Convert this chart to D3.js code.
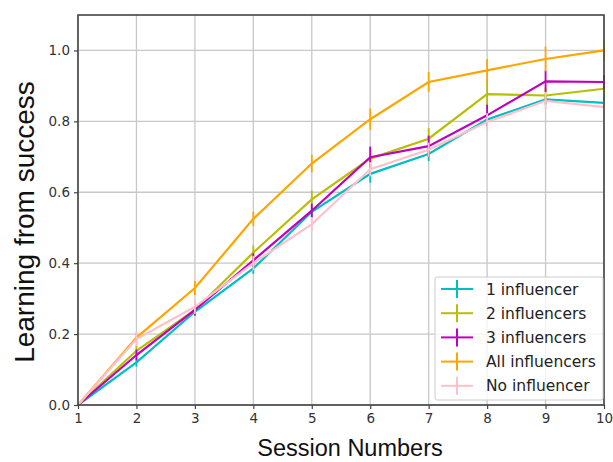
<!DOCTYPE html>
<html>
<head>
<meta charset="utf-8">
<script src="https://cdn.jsdelivr.net/npm/d3@7"></script>
<style>
  html, body { margin: 0; padding: 0; background: #fff; }
  svg { display: block; }
</style>
</head>
<body>
<svg id="chart" width="613" height="462"></svg>
<script>
const sessions = [1, 2, 3, 4, 5, 6, 7, 8, 9, 10];
const seriesNames = ["1 influencer", "2 influencers", "3 influencers", "All influencers", "No influencer"];
const seriesColors = ["#00bfbf", "#b8bf00", "#bf00bf", "#ffa500", "#ffc0cb"];
const oneInfluencer   = [0, 0.120, 0.263, 0.385, 0.545, 0.652, 0.708, 0.805, 0.862, 0.852];
const twoInfluencers  = [0, 0.153, 0.268, 0.430, 0.580, 0.695, 0.751, 0.877, 0.873, 0.892];
const threeInfluencers= [0, 0.141, 0.268, 0.408, 0.548, 0.699, 0.730, 0.817, 0.913, 0.911];
const allInfluencers  = [0, 0.190, 0.330, 0.525, 0.681, 0.806, 0.911, 0.944, 0.976, 1.000];
const noInfluencer    = [0, 0.186, 0.277, 0.400, 0.510, 0.665, 0.720, 0.798, 0.858, 0.840];
const errOne   = [0, 0.012, 0.012, 0.015, 0.015, 0.025, 0.020, 0.020, 0.015, 0.020];
const errTwo   = [0, 0.015, 0.015, 0.020, 0.025, 0.030, 0.030, 0.040, 0.020, 0.020];
const errThree = [0, 0.015, 0.015, 0.020, 0.020, 0.030, 0.030, 0.030, 0.030, 0.020];
const errAll   = [0, 0.014, 0.020, 0.020, 0.025, 0.030, 0.028, 0.032, 0.035, 0.030];
const errNo    = [0, 0.020, 0.020, 0.020, 0.020, 0.020, 0.020, 0.025, 0.025, 0.020];
const yTicks = [0.0, 0.2, 0.4, 0.6, 0.8, 1.0];
const xTicks = [1, 2, 3, 4, 5, 6, 7, 8, 9, 10];

const values = [oneInfluencer, twoInfluencers, threeInfluencers, allInfluencers, noInfluencer];
const errors = [errOne, errTwo, errThree, errAll, errNo];

const svg = d3.select("#chart");
const margin = { left: 78, right: 9, top: 15, bottom: 57 };
const W = 613, H = 462;
const x = d3.scaleLinear().domain([1, 10]).range([margin.left, W - margin.right]);
const y = d3.scaleLinear().domain([0, 1.1]).range([H - margin.bottom, margin.top]);

// grid
const grid = svg.append("g");
grid.selectAll("line.gx").data(xTicks).join("line")
  .attr("x1", d => x(d)).attr("x2", d => x(d))
  .attr("y1", y(0)).attr("y2", y(1.1))
  .attr("stroke", "#c8c8c8").attr("stroke-width", 1.3);
grid.selectAll("line.gy").data(yTicks).join("line")
  .attr("x1", x(1)).attr("x2", x(10))
  .attr("y1", d => y(d)).attr("y2", d => y(d))
  .attr("stroke", "#c8c8c8").attr("stroke-width", 1.3);

// series
const line = d3.line().x((d, i) => x(sessions[i])).y(d => y(d));
values.forEach((vals, s) => {
  const g = svg.append("g");
  g.append("path").datum(vals)
    .attr("d", line).attr("fill", "none")
    .attr("stroke", seriesColors[s]).attr("stroke-width", 2.2);
  g.selectAll("line.err").data(vals).join("line")
    .attr("x1", (d, i) => x(sessions[i])).attr("x2", (d, i) => x(sessions[i]))
    .attr("y1", (d, i) => y(d - errors[s][i])).attr("y2", (d, i) => y(d + errors[s][i]))
    .attr("stroke", seriesColors[s]).attr("stroke-width", 1.8);
});

// axes
const xAxis = d3.axisBottom(x).tickValues(xTicks).tickFormat(d3.format("d")).tickSize(4).tickPadding(4);
const yAxis = d3.axisLeft(y).tickValues(yTicks).tickFormat(d3.format(".1f")).tickSize(4).tickPadding(4);
const gx = svg.append("g").attr("transform", `translate(0,${y(0)})`).call(xAxis);
const gy = svg.append("g").attr("transform", `translate(${x(1)},0)`).call(yAxis);
[gx, gy].forEach(g => {
  g.select(".domain").remove();
  g.selectAll(".tick line").attr("stroke", "#444").attr("stroke-width", 1.2);
  g.selectAll(".tick text").attr("fill", "#333")
    .style("font-family", "'DejaVu Sans', sans-serif").style("font-size", "13.5px");
});

// frame
svg.append("rect")
  .attr("x", x(1)).attr("y", y(1.1))
  .attr("width", x(10) - x(1)).attr("height", y(0) - y(1.1))
  .attr("fill", "none").attr("stroke", "#444").attr("stroke-width", 1.6);

// labels
svg.append("text")
  .attr("x", 350).attr("y", 456)
  .attr("text-anchor", "middle")
  .style("font-family", "'Liberation Sans', Arial, sans-serif").style("font-size", "23.5px")
  .attr("fill", "#111").text("Session Numbers");
svg.append("text")
  .attr("transform", `translate(34,222) rotate(-90)`)
  .attr("text-anchor", "middle")
  .style("font-family", "'Liberation Sans', Arial, sans-serif").style("font-size", "28px")
  .attr("fill", "#111").text("Learning from success");

// legend
const lg = svg.append("g").attr("transform", "translate(435,277)");
lg.append("rect").attr("width", 168).attr("height", 123).attr("rx", 2)
  .attr("fill", "#fff").attr("fill-opacity", 0.8)
  .attr("stroke", "#cccccc").attr("stroke-width", 1);
seriesNames.forEach((name, i) => {
  const cy = 12 + i * 24.2;
  const row = lg.append("g").attr("transform", `translate(0,${cy})`);
  row.append("line").attr("x1", 6).attr("x2", 38).attr("y1", 0).attr("y2", 0)
    .attr("stroke", seriesColors[i]).attr("stroke-width", 2);
  row.append("line").attr("x1", 22).attr("x2", 22).attr("y1", -9).attr("y2", 9)
    .attr("stroke", seriesColors[i]).attr("stroke-width", 2);
  row.append("text").attr("x", 51).attr("y", 0).attr("dy", "0.36em")
    .style("font-family", "'DejaVu Sans', sans-serif").style("font-size", "15.5px")
    .attr("fill", "#222").text(name);
});
</script>
</body>
</html>
